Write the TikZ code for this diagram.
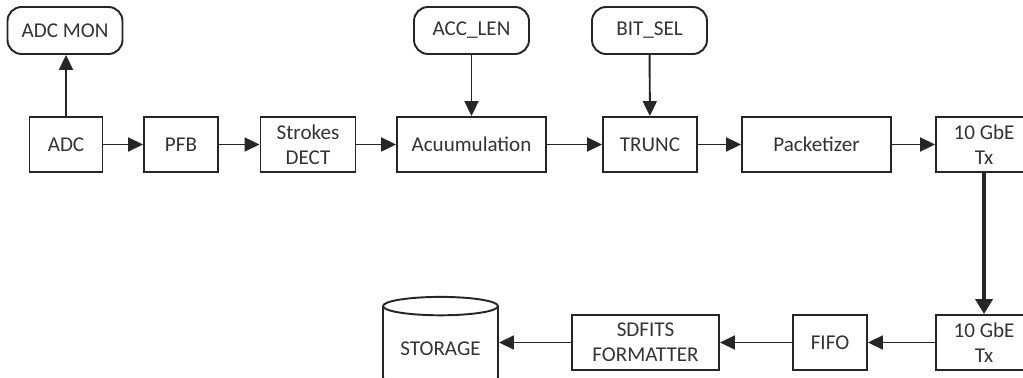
\documentclass[tikz,border=0pt]{standalone}
\usepackage{fontspec}
\setmainfont{Carlito}
\usetikzlibrary{shapes.geometric, arrows.meta}
\tikzstyle{block} = [rectangle, draw=black!85, line width=1.1pt, minimum height=1.1cm, text centered, align=center, font=\fontsize{12}{14}\selectfont, text=black!80]
\tikzstyle{reg} = [block, rounded corners=8pt, minimum height=0.94cm, minimum width=2.3cm]
\tikzstyle{disk} = [block, shape=cylinder, shape border rotate=90, aspect=0.2, minimum width=2.3cm, minimum height=1.8cm]
\tikzstyle{arrow} = [line width=1.1pt, draw=black!85, -{Triangle[length=0.3cm,width=0.28cm]}]
\tikzstyle{bigarrow} = [line width=2.6pt, draw=black!85, -{Triangle[length=0.3cm,width=0.34cm]}]

\begin{document}
\begin{tikzpicture}[x=0.02cm,y=-0.02cm]
\useasboundingbox (0,0) rectangle (1023,378);

% signal chain
\node[block,minimum width=1.46cm] (adc) at (66,144.5) {ADC};
\node[block,minimum width=1.48cm] (pfb) at (181,144.5) {PFB};
\node[block,minimum width=1.9cm] (stokes) at (308,144.5) {Strokes\\DECT};
\node[block,minimum width=2.98cm] (acc) at (471.5,144.5) {Acuumulation};
\node[block,minimum width=1.88cm] (trunc) at (650,144.5) {TRUNC};
\node[block,minimum width=2.98cm] (pack) at (816.5,144.5) {Packetizer};
\node[block,minimum width=1.92cm] (txa) at (984,144.5) {10 GbE\\Tx};

% registers
\node[reg] (adcmon) at (65,30.5) {ADC MON};
\node[reg] (acclen) at (471.5,30.5) {ACC\_LEN};
\node[reg] (bitsel) at (649.5,30.5) {BIT\_SEL};

% receive side
\node[block,minimum width=1.92cm] (txb) at (984,342.5) {10 GbE\\Tx};
\node[block,minimum width=1.48cm] (fifo) at (830,342.5) {FIFO};
\node[block,minimum width=2.94cm] (sdfits) at (645.5,342.5) {SDFITS\\FORMATTER};
\node[disk] (storage) at (440.5,349) {STORAGE};

\draw[arrow] (adc.north) -- (adc.north |- adcmon.south);
\draw[arrow] (acclen) -- (acc);
\draw[arrow] (bitsel) -- (trunc);
\draw[arrow] (adc) -- (pfb);
\draw[arrow] (pfb) -- (stokes);
\draw[arrow] (stokes) -- (acc);
\draw[arrow] (acc) -- (trunc);
\draw[arrow] (trunc) -- (pack);
\draw[arrow] (pack) -- (txa);
\draw[bigarrow] (txa) -- (txb);
\draw[arrow] (txb) -- (fifo);
\draw[arrow] (fifo) -- (sdfits.east);
\draw[arrow] (sdfits.west) -- (sdfits.west -| storage.east);
\end{tikzpicture}
\end{document}
